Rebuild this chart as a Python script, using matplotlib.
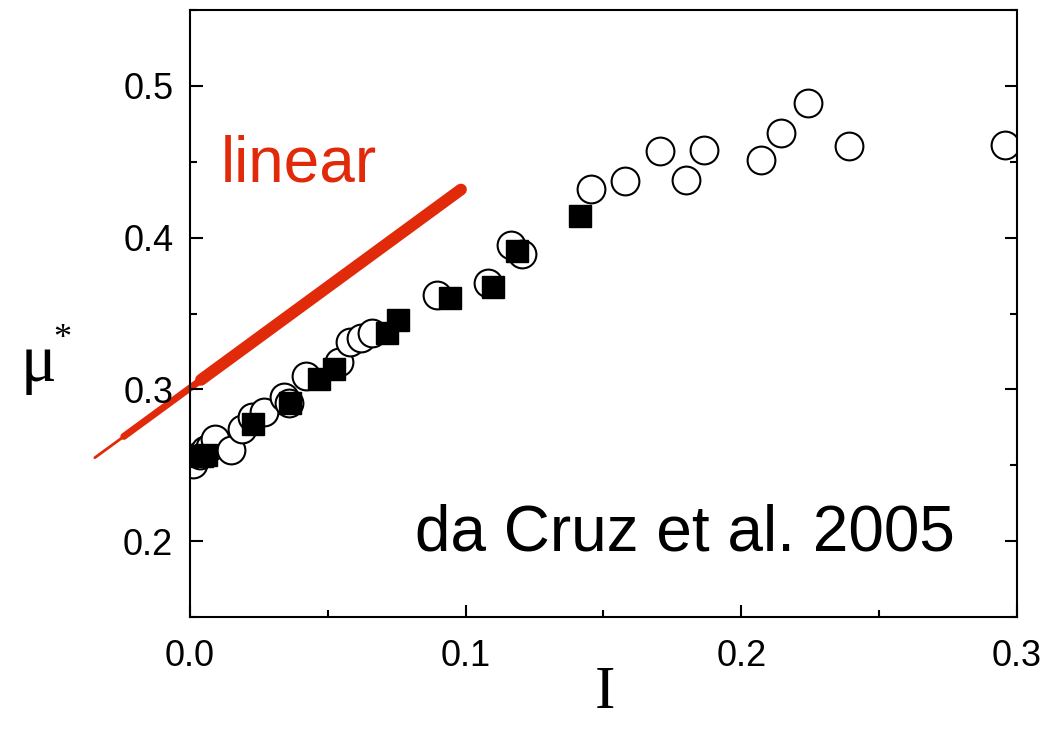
import matplotlib
matplotlib.use("Agg")
import matplotlib.pyplot as plt
from matplotlib.ticker import MultipleLocator

# open circles
circ_x = [0.001, 0.0036, 0.0055, 0.0073, 0.009, 0.015, 0.019, 0.0225, 0.027, 0.034,
          0.036, 0.042, 0.054, 0.058, 0.062, 0.066, 0.0896, 0.108, 0.1164, 0.1204,
          0.1455, 0.1578, 0.1705, 0.180, 0.1864, 0.207, 0.2144, 0.224, 0.239, 0.2956]
circ_y = [0.2507, 0.257, 0.260, 0.262, 0.267, 0.260, 0.274, 0.282, 0.285, 0.295,
          0.291, 0.3086, 0.318, 0.331, 0.334, 0.337, 0.362, 0.370, 0.3954, 0.3895,
          0.4322, 0.4375, 0.4572, 0.438, 0.4579, 0.4513, 0.469, 0.4888, 0.4605, 0.4612]

# filled squares
sq_x = [0.0044, 0.006, 0.0229, 0.0363, 0.0468, 0.0522, 0.0715, 0.0754, 0.0943, 0.110, 0.1186, 0.1415]
sq_y = [0.256, 0.257, 0.277, 0.291, 0.3066, 0.3132, 0.337, 0.346, 0.360, 0.3678, 0.3914, 0.4145]

# red "linear" brush stroke: tail, middle, body
tail_x = [-0.0345, 0.0987]
tail_y = [0.255, 0.432]
mid_x = [-0.024, 0.0987]
mid_y = [0.269, 0.432]
body_x = [0.004, 0.0983]
body_y = [0.3063, 0.4317]

fig = plt.figure(figsize=(10.46, 7.37), dpi=100)
ax = fig.add_axes([0.1816, 0.1628, 0.7907, 0.8236])

red = '#e02a0a'
ax.plot(tail_x, tail_y, color=red, lw=2, solid_capstyle='round', clip_on=False, zorder=1)
ax.plot(mid_x, mid_y, color=red, lw=5, solid_capstyle='round', clip_on=False, zorder=1)
ax.plot(body_x, body_y, color=red, lw=8.5, solid_capstyle='round', clip_on=False, zorder=1)
ax.plot(circ_x, circ_y, 'o', ms=20, mfc='white', mec='black', mew=1.5, zorder=2)
ax.plot(sq_x, sq_y, 's', ms=16, mfc='black', mec='black', zorder=3)

ax.set_xlim(0, 0.3)
ax.set_ylim(0.15, 0.55)
ax.xaxis.set_minor_locator(MultipleLocator(0.05))
ax.yaxis.set_minor_locator(MultipleLocator(0.05))
ax.set_xticks([0, 0.1, 0.2, 0.3])
ax.set_xticklabels(['0.0', '0.1', '0.2', '0.3'])
ax.set_yticks([0.2, 0.3, 0.4, 0.5])
ax.set_yticklabels(['0.2', '0.3', '0.4', '0.5'])
ax.tick_params(which='both', direction='in', right=True, top=False, width=1.5,
               labelsize=26, pad=12)
ax.tick_params(axis='x', pad=16)
ax.tick_params(which='major', length=9)
ax.tick_params(which='minor', length=5)
for lab in ax.get_xticklabels() + ax.get_yticklabels():
    lab.set_family('Liberation Sans')
for s in ax.spines.values():
    s.set_linewidth(1.5)

ax.text(0.011, 0.448, 'linear', color=red, fontsize=46, family='Liberation Sans',
        ha='left', va='center')
ax.text(0.2775, 0.194, 'da Cruz et al. 2005', color='black', fontsize=46, family='Liberation Sans',
        ha='right', va='baseline')

fig.text(0.578, 0.04, 'I', fontsize=44, family='Liberation Serif', ha='center', va='baseline')
fig.text(0.037, 0.505, 'μ', fontsize=48, family='Liberation Serif', ha='center', va='center')
fig.text(0.06, 0.54, '*', fontsize=26, family='Liberation Serif', ha='center', va='center')

fig.savefig('out.png', dpi=100)
